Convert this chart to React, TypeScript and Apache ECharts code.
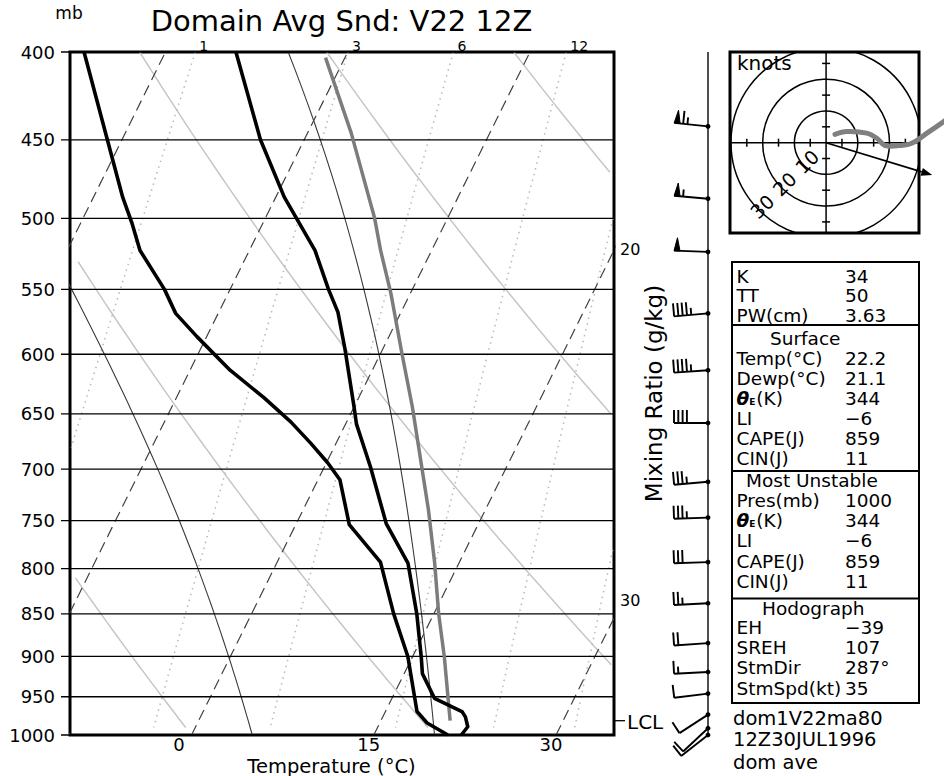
import React, { useEffect, useRef } from 'react';
import * as echarts from 'echarts';

// ---------------- data ----------------
const PRESSURE_LEVELS = [400, 450, 500, 550, 600, 650, 700, 750, 800, 850, 900, 950, 1000];
const TEMP_TICKS = [0, 15, 30];
const ISOTHERMS = [-45, -30, -15, 0, 15, 30, 45];
const DRY_ADIABATS = [0, 20, 40, 60, 80];
const MOIST_ADIABATS = [-10, 5, 20, 35];
const MIXING_RATIOS = [1, 3, 6, 12, 20, 30];

const ENV_P = [1000, 989, 976, 969, 952, 921, 900, 850, 794, 753, 698, 659, 644, 596, 567, 550, 522, 486, 450, 400];
const ENV_T = [22.2, 22.4, 21.8, 21.3, 18.5, 16.5, 15.7, 13.6, 10.8, 7.4, 3.8, 0.9, 0.0, -3.1, -5.2, -6.9, -9.6, -14.3, -18.6, -24.2];

const DEW_P = [1000, 984, 969, 900, 850, 793, 754, 710, 694, 676, 657, 636, 613, 586, 568, 550, 522, 503, 486, 450, 400];
const DEW_T = [21.1, 18.9, 17.6, 14.6, 11.7, 8.5, 4.4, 1.8, 0.1, -2.1, -4.6, -7.8, -11.7, -15.8, -18.5, -20.4, -24.0, -25.8, -27.6, -31.2, -36.7];

const PARCEL_P = [981, 900, 850, 794, 739, 644, 600, 553, 522, 500, 446, 403];
const PARCEL_T = [20.7, 17.6, 15.4, 13.0, 10.3, 4.8, 1.8, -1.6, -4.2, -6.0, -11.4, -16.6];
const LCL_P = 981;

const WIND_P = [442, 487, 523, 568, 613, 658, 712, 747, 793, 838, 884, 919, 946, 973, 991, 1000];
const WIND_DIR = [276, 275, 272, 265, 266, 270, 265, 268, 268, 267, 266, 267, 263, 237, 227, 232];
const WIND_SPD = [65, 55, 50, 45, 45, 40, 35, 35, 30, 25, 20, 15, 10, 10, 10, 10];

const HODO_U = [2.8, 6.5, 12.8, 16.0, 18.6, 23.3, 27.0, 31.8, 37.0, 41.0];
const HODO_V = [2.6, 3.5, 3.0, 1.4, -0.9, -0.9, -0.2, 3.0, 6.6, 9.5];
const HODO_RINGS = [10, 20, 30];
const HODO_TICKS = [5, 15, 25];
const STORM_DIR = 287;
const STORM_SPD = 35;

const INDEX_LABELS = ['K', 'TT', 'PW(cm)'];
const INDEX_VALUES = ['34', '50', '3.63'];
const SURFACE_LABELS = ['Temp(°C)', 'Dewp(°C)', 'THETAE', 'LI', 'CAPE(J)', 'CIN(J)'];
const SURFACE_VALUES = ['22.2', '21.1', '344', '−6', '859', '11'];
const MU_LABELS = ['Pres(mb)', 'THETAE', 'LI', 'CAPE(J)', 'CIN(J)'];
const MU_VALUES = ['1000', '344', '−6', '859', '11'];
const HODO_LABELS = ['EH', 'SREH', 'StmDir', 'StmSpd(kt)'];
const HODO_VALUES = ['−39', '107', '287°', '35'];
const STAMP_LINES = ['dom1V22ma80', '12Z30JUL1996', 'dom ave'];

// ---------------- geometry / helpers ----------------
const FONT = '"DejaVu Sans", "Liberation Sans", sans-serif';
const X_MIN = -10;
const X_MAX = 34.77;
const SKEW = 30.4;
const STAFF_X = 708;
const MR_SIDE_Y: any = { 20: 249, 30: 600 };
const TABLE_FONT = 18.5;

const skewX = (t: number, p: number) => t + SKEW * Math.log(1000 / p);
const esat = (tc: number) => 6.112 * Math.exp((17.67 * tc) / (tc + 243.5));
const dewFromW = (w: number, p: number) => {
  const e = (p * w) / (622 + w);
  const a = Math.log(e / 6.112);
  return (243.5 * a) / (17.67 - a);
};
const inside = (x: number) => x >= X_MIN && x <= X_MAX;

function isothermLine(t: number) {
  return [[skewX(t, 1000), 1000], [skewX(t, 400), 400]];
}
function dryLine(th: number) {
  const pts: number[][] = [];
  for (let p = 400; p <= 990; p += 10) {
    const T = (th + 273.15) * Math.pow(p / 1000, 0.2857) - 273.15;
    const X = skewX(T, p);
    if (inside(X)) pts.push([X, p]);
  }
  return pts;
}
function mixLine(w: number) {
  const pts: number[][] = [];
  for (let p = 400; p <= 990; p += 10) {
    const X = skewX(dewFromW(w, p), p);
    if (inside(X)) pts.push([X, p]);
  }
  return pts;
}
function moistLine(tw: number) {
  const f = (T: number, p: number) => {
    const tc = T - 273.15;
    const es = esat(tc);
    const rs = (0.622 * es) / (p - es);
    return (287.04 * T + 2.501e6 * rs) / (1005.7 + (2.501e6 * 2.501e6 * rs * 0.622) / (287.04 * T * T)) / p;
  };
  let T = tw + 273.15;
  const pts: number[][] = [[skewX(tw, 1000), 1000]];
  for (let i = 1; i <= 300; i++) {
    const p0 = 1000 - 2 * (i - 1);
    const p1 = p0 - 2;
    const k1 = f(T, p0);
    const k2 = f(T - 2 * k1, p1);
    T += -2 * 0.5 * (k1 + k2);
    if (p1 % 10 === 0) pts.push([skewX(T - 273.15, p1), p1]);
  }
  return pts;
}

function textStyle(text: string, size: number, align = 'left', extra: any = {}) {
  return {
    text,
    fill: '#000',
    font: `${size}px ${FONT}`,
    align,
    textAlign: align,
    verticalAlign: 'middle',
    textVerticalAlign: 'middle',
    ...extra,
  };
}
function gText(text: string, x: number, y: number, size: number, align = 'left', rotation = 0, extra: any = {}) {
  return { type: 'text', x, y, rotation, silent: true, style: textStyle(text, size, align, extra) };
}
function gLine(x1: number, y1: number, x2: number, y2: number, w = 2, color = '#000') {
  return { type: 'line', silent: true, shape: { x1, y1, x2, y2 }, style: { stroke: color, lineWidth: w } };
}

function labelElement(label: string, x: number, y: number) {
  if (label === 'THETAE') {
    return {
      type: 'text', x, y, silent: true,
      style: {
        text: '{t|θ}{s|E}{n|(K)}',
        fill: '#000',
        font: `${TABLE_FONT}px ${FONT}`,
        align: 'left', textAlign: 'left',
        verticalAlign: 'middle', textVerticalAlign: 'middle',
        rich: {
          t: { font: `italic bold ${TABLE_FONT}px ${FONT}`, lineHeight: 20, verticalAlign: 'middle' },
          s: { font: `bold 9px ${FONT}`, lineHeight: 20, verticalAlign: 'bottom', padding: [0, 1, 2, 0] },
          n: { font: `${TABLE_FONT}px ${FONT}`, lineHeight: 20, verticalAlign: 'middle' },
        },
      },
    };
  }
  return gText(label, x, y, TABLE_FONT);
}

function buildGraphic() {
  const els: any[] = [];
  els.push(gText('Domain Avg Snd: V22 12Z', 341.5, 20.5, 29, 'center'));
  els.push(gText('mb', 69, 13, 17, 'center'));
  els.push(gText('Temperature (°C)', 331.5, 766, 19.5, 'center'));
  els.push(gText('Mixing Ratio (g/kg)', 654, 393.5, 23, 'center', Math.PI / 2));
  els.push(gLine(STAFF_X, 52, STAFF_X, 737, 1.6, '#222'));
  els.push(gText('knots', 737, 63, 20, 'left'));

  // stats table
  const bx = 732, by = 262, bw = 187, bh = 441;
  els.push({ type: 'rect', silent: true, shape: { x: bx, y: by, width: bw, height: bh }, style: { fill: 'none', stroke: '#000', lineWidth: 2 } });
  [325, 471, 598.5].forEach((y) => els.push(gLine(bx, y, bx + bw, y, 2)));
  const LX = 736.5, VX = 845;
  const addRows = (labels: string[], values: string[], y0: number, step: number) => {
    labels.forEach((l, i) => {
      const y = y0 + i * step;
      els.push(labelElement(l, LX, y));
      els.push(gText(values[i], VX, y, TABLE_FONT));
    });
  };
  addRows(INDEX_LABELS, INDEX_VALUES, 276, 19.5);
  els.push(gText('Surface', 770, 338.5, TABLE_FONT));
  addRows(SURFACE_LABELS, SURFACE_VALUES, 358.3, 20);
  els.push(gText('Most Unstable', 746, 480.5, TABLE_FONT));
  addRows(MU_LABELS, MU_VALUES, 500.5, 20.2);
  els.push(gText('Hodograph', 762, 608.3, TABLE_FONT));
  addRows(HODO_LABELS, HODO_VALUES, 627, 20.4);
  [718, 739, 762].forEach((y, i) => els.push(gText(STAMP_LINES[i], 733, y, 19.5)));
  return els;
}

function buildOption() {
  const series: any[] = [];
  const lineSeries = (data: number[][], lineStyle: any, z = 2) => ({
    type: 'line', xAxisIndex: 0, yAxisIndex: 0, data, symbol: 'none', showSymbol: false,
    silent: true, clip: true, lineStyle, z,
  });

  DRY_ADIABATS.forEach((th) => series.push(lineSeries(dryLine(th), { color: '#c6c6c6', width: 1.5 })));
  MIXING_RATIOS.forEach((w) => series.push(lineSeries(mixLine(w), { color: '#b8b8b8', width: 1.5, type: [1.5, 4.5] })));
  MOIST_ADIABATS.forEach((tw) => series.push(lineSeries(moistLine(tw), { color: '#3a3a3a', width: 1.1 })));
  ISOTHERMS.forEach((t) => series.push(lineSeries(isothermLine(t), { color: '#404040', width: 1.2, type: [11, 6] })));

  // isobars with tick + label
  series.push({
    type: 'custom', xAxisIndex: 0, yAxisIndex: 0, silent: true, clip: false, z: 3,
    data: PRESSURE_LEVELS.map((p) => [X_MIN, p]),
    encode: { x: 0, y: 1 },
    renderItem: (params: any, api: any) => {
      const p = api.value(1);
      const c = api.coord([X_MIN, p]);
      const cs = params.coordSys;
      return {
        type: 'group',
        children: [
          { type: 'line', shape: { x1: cs.x - 9, y1: c[1], x2: cs.x + cs.width, y2: c[1] }, style: { stroke: '#000', lineWidth: 1.3 } },
          { type: 'text', x: cs.x - 15, y: c[1], style: textStyle(String(p), 18, 'right') },
        ],
      };
    },
  });

  // mixing-ratio labels
  series.push({
    type: 'custom', xAxisIndex: 0, yAxisIndex: 0, silent: true, clip: false, z: 3,
    data: MIXING_RATIOS.map((w) => [skewX(dewFromW(w, 400), 400), 400, w]),
    encode: { x: 0, y: 1 },
    renderItem: (params: any, api: any) => {
      const X = api.value(0);
      const p = api.value(1);
      const w = api.value(2);
      const cs = params.coordSys;
      if (X <= X_MAX) {
        const c = api.coord([X, p]);
        return { type: 'text', x: c[0] + 4, y: cs.y - 6.5, style: textStyle(String(w), 14, 'left') };
      }
      return { type: 'text', x: cs.x + cs.width + 6, y: MR_SIDE_Y[w], style: textStyle(String(w), 16, 'left') };
    },
  });

  // parcel, temperature, dewpoint
  series.push(lineSeries(PARCEL_P.map((p, i) => [skewX(PARCEL_T[i], p), p]), { color: '#7c7c7c', width: 3.5 }, 4));
  series.push(lineSeries(ENV_P.map((p, i) => [skewX(ENV_T[i], p), p]), { color: '#000', width: 3.6, join: 'round' }, 5));
  series.push(lineSeries(DEW_P.map((p, i) => [skewX(DEW_T[i], p), p]), { color: '#000', width: 3.6, join: 'round' }, 5));

  // LCL marker
  series.push({
    type: 'custom', xAxisIndex: 0, yAxisIndex: 0, silent: true, clip: false, z: 5,
    data: [[X_MAX, LCL_P]],
    encode: { x: 0, y: 1 },
    renderItem: (params: any, api: any) => {
      const c = api.coord([X_MAX, api.value(1)]);
      return {
        type: 'group',
        children: [
          { type: 'line', shape: { x1: c[0] + 1, y1: c[1], x2: c[0] + 11, y2: c[1] }, style: { stroke: '#000', lineWidth: 1.3 } },
          { type: 'text', x: c[0] + 13, y: c[1] + 1, style: textStyle('LCL', 20, 'left') },
        ],
      };
    },
  });

  // wind barbs
  series.push({
    type: 'custom', xAxisIndex: 0, yAxisIndex: 0, silent: true, clip: false, z: 5,
    data: WIND_P.map((p, i) => [0, p, WIND_DIR[i], WIND_SPD[i]]),
    encode: { x: 0, y: 1 },
    renderItem: (params: any, api: any) => {
      const p = api.value(1);
      const dir = api.value(2);
      const spd = api.value(3);
      const y = api.coord([0, p])[1];
      const bx = STAFF_X;
      const r = (dir * Math.PI) / 180;
      const sx = Math.sin(r), sy = -Math.cos(r);
      const nx = Math.cos(r), ny = Math.sin(r);
      const L = 34;
      const ex = bx + L * sx, ey = y + L * sy;
      const P = (d: number) => [ex - sx * d, ey - sy * d];
      const children: any[] = [
        { type: 'line', shape: { x1: bx, y1: y, x2: ex, y2: ey }, style: { stroke: '#000', lineWidth: 1.9 } },
        { type: 'circle', shape: { cx: bx, cy: y, r: 2.4 }, style: { fill: '#000' } },
      ];
      let rem = Math.round(spd / 5) * 5;
      const flags = Math.floor(rem / 50);
      rem -= flags * 50;
      const fulls = Math.floor(rem / 10);
      rem -= fulls * 10;
      const halves = rem >= 5 ? 1 : 0;
      let d = 0;
      for (let i = 0; i < flags; i++) {
        const a = P(d), b = P(d + 6), m = P(d + 3);
        const tip = [m[0] + nx * 13, m[1] + ny * 13];
        children.push({ type: 'polygon', shape: { points: [a, b, tip] }, style: { fill: '#000', stroke: '#000', lineWidth: 1 } });
        d += 9;
      }
      for (let i = 0; i < fulls; i++) {
        const a = P(d);
        children.push({ type: 'line', shape: { x1: a[0], y1: a[1], x2: a[0] + nx * 13, y2: a[1] + ny * 13 }, style: { stroke: '#000', lineWidth: 1.9 } });
        d += 4.3;
      }
      for (let i = 0; i < halves; i++) {
        const a = P(d);
        children.push({ type: 'line', shape: { x1: a[0], y1: a[1], x2: a[0] + nx * 7, y2: a[1] + ny * 7 }, style: { stroke: '#000', lineWidth: 1.9 } });
      }
      return { type: 'group', children };
    },
  });

  // hodograph frame: cross, rings, ticks, labels
  series.push({
    type: 'custom', xAxisIndex: 1, yAxisIndex: 1, silent: true, clip: true, z: 3,
    data: [[0, 0]],
    renderItem: (params: any, api: any) => {
      const c = api.coord([0, 0]);
      const cs = params.coordSys;
      const ch: any[] = [];
      const ln = (x1: number, y1: number, x2: number, y2: number, w = 1.5) =>
        ch.push({ type: 'line', shape: { x1, y1, x2, y2 }, style: { stroke: '#000', lineWidth: w } });
      ln(cs.x, c[1], cs.x + cs.width, c[1]);
      ln(c[0], cs.y, c[0], cs.y + cs.height);
      HODO_RINGS.forEach((rk) => {
        const rp = api.coord([rk, 0])[0] - c[0];
        ch.push({ type: 'circle', shape: { cx: c[0], cy: c[1], r: rp }, style: { fill: 'none', stroke: '#000', lineWidth: 1.5 } });
      });
      HODO_TICKS.forEach((t) => {
        [t, -t].forEach((tt) => {
          const px = api.coord([tt, 0]);
          ln(px[0], px[1] - 4, px[0], px[1] + 4);
          const py = api.coord([0, tt]);
          ln(py[0] - 4, py[1], py[0] + 4, py[1]);
        });
      });
      HODO_RINGS.forEach((rk) => {
        const rl = rk - 1.5;
        const q = api.coord([-rl * Math.SQRT1_2, -rl * Math.SQRT1_2]);
        ch.push({ type: 'text', x: q[0], y: q[1], rotation: Math.PI / 4, style: textStyle(String(rk), 19, 'center') });
      });
      return { type: 'group', children: ch };
    },
  });

  // hodograph trace (drawn as one polyline, not clipped to the box)
  series.push({
    type: 'custom', xAxisIndex: 1, yAxisIndex: 1, silent: true, clip: false, z: 4,
    data: HODO_U.map((u, i) => [u, HODO_V[i]]),
    renderItem: (params: any, api: any) => {
      if (params.dataIndex !== 0) return null;
      const pts = HODO_U.map((u, i) => api.coord([u, HODO_V[i]]));
      return {
        type: 'polyline',
        shape: { points: pts, smooth: 0.35 },
        style: { stroke: '#808080', lineWidth: 5, fill: null, lineCap: 'round', lineJoin: 'round' },
      };
    },
  });

  // storm motion arrow
  const su = -STORM_SPD * Math.sin((STORM_DIR * Math.PI) / 180);
  const sv = -STORM_SPD * Math.cos((STORM_DIR * Math.PI) / 180);
  series.push({
    type: 'custom', xAxisIndex: 1, yAxisIndex: 1, silent: true, clip: false, z: 5,
    data: [[su, sv]],
    renderItem: (params: any, api: any) => {
      const c0 = api.coord([0, 0]);
      const c1 = api.coord([api.value(0), api.value(1)]);
      const dx = c1[0] - c0[0], dy = c1[1] - c0[1];
      const len = Math.hypot(dx, dy);
      const ux = dx / len, uy = dy / len;
      const bxp = c1[0] - ux * 11, byp = c1[1] - uy * 11;
      return {
        type: 'group',
        children: [
          { type: 'line', shape: { x1: c0[0], y1: c0[1], x2: bxp, y2: byp }, style: { stroke: '#000', lineWidth: 1.6 } },
          { type: 'polygon', shape: { points: [[c1[0], c1[1]], [bxp - uy * 4, byp + ux * 4], [bxp + uy * 4, byp - ux * 4]] }, style: { fill: '#000' } },
        ],
      };
    },
  });

  return {
    animation: false,
    backgroundColor: '#fff',
    textStyle: { fontFamily: FONT },
    grid: [
      { left: 70, top: 52, width: 544, height: 683, show: true, borderColor: '#000', borderWidth: 3, backgroundColor: 'transparent', containLabel: false, outerBoundsMode: 'none' },
      { left: 730, top: 52, width: 189, height: 181, show: true, borderColor: '#000', borderWidth: 3, backgroundColor: 'transparent', containLabel: false, outerBoundsMode: 'none' },
    ],
    xAxis: [
      {
        type: 'value', gridIndex: 0, min: X_MIN, max: X_MAX,
        axisLine: { show: false }, axisTick: { show: false }, splitLine: { show: false },
        axisLabel: {
          customValues: TEMP_TICKS,
          color: '#000', fontSize: 18, margin: 0, lineHeight: 18, fontFamily: FONT,
          formatter: (v: number) => (v === 0 ? '{a|0}' : `{b|${v}}`),
          rich: {
            a: { fontSize: 18, lineHeight: 18, fontFamily: FONT, color: '#000', padding: [0, 25, 0, 0] },
            b: { fontSize: 18, lineHeight: 18, fontFamily: FONT, color: '#000', padding: [0, 10, 0, 0] },
          },
        },
      },
      { type: 'value', gridIndex: 1, min: -30.3, max: 29.3, show: false },
    ],
    yAxis: [
      { type: 'log', gridIndex: 0, logBase: 10, min: 400, max: 1000, inverse: true, show: false },
      { type: 'value', gridIndex: 1, min: -28.5, max: 28.6, show: false },
    ],
    graphic: buildGraphic(),
    series,
  };
}

export default function App() {
  const ref = useRef<HTMLDivElement>(null);
  useEffect(() => {
    const chart = echarts.init(ref.current as HTMLDivElement, null, { renderer: 'svg' });
    chart.setOption(buildOption() as any);
    return () => chart.dispose();
  }, []);
  return (
    <div
      ref={ref}
      style={{ position: 'fixed', left: 0, top: 0, width: 944, height: 776, background: '#fff' }}
    />
  );
}
